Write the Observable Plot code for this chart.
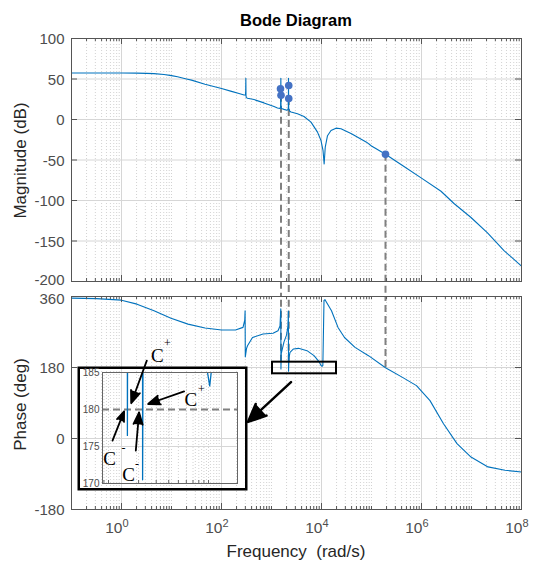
<!DOCTYPE html>
<html><head><meta charset="utf-8">
<script src="https://cdn.jsdelivr.net/npm/d3@7"></script>
<script src="https://cdn.jsdelivr.net/npm/@observablehq/plot@0.6"></script>
<style>
body{margin:0;background:#fff;}
#wrap{position:relative;width:534px;height:563px;background:#fff;overflow:hidden;font-family:"Liberation Sans",Arial,sans-serif;}
#wrap > *{position:absolute;}
.lbl{color:#262626;font-size:17px;white-space:pre;line-height:1;}
g[aria-label="arrow"] path{fill:#000;}
</style></head><body><div id="wrap"></div>
<script>
// ---------- data ----------
// frequency given as log10(rad/s)
const magExp = [-1,-0.5,0,0.3,0.5,0.65,0.85,1.0,1.12,1.3,1.4,1.67,2.0,2.2,2.35,2.45,2.48,2.484,2.487,2.49,2.495,2.52,2.65,2.85,3.05,3.12,3.17,3.182,3.187,3.191,3.2,3.25,3.31,3.332,3.337,3.34,3.344,3.36,3.39,3.52,3.65,3.79,3.92,3.99,4.03,4.053,4.075,4.12,4.19,4.29,4.39,4.6,4.9,5.0,5.28,5.65,6.0,6.39,6.65,6.99,7.32,7.65,8.0];
const magDb  = [57.5,57.5,57.4,57.3,57,56.6,55.5,54.2,52.7,50,48.6,43.6,38.3,34.7,32,30.2,30.5,35,51,30,27,26.2,24.6,20.5,16,14.3,13.6,15.5,51,16.5,13.5,12.5,11.5,12.5,16,51,14,10.5,9.2,7,3.7,-3.3,-15.6,-26,-38,-55,-34,-20,-13.5,-10.7,-11.5,-17.5,-28,-32.7,-43,-58,-72.4,-88.6,-103.7,-121,-140,-161.8,-181];
const phaseExp = [-1,-0.5,0,0.31,0.65,0.99,1.33,1.67,2.0,2.28,2.43,2.465,2.472,2.476,2.5,2.52,2.62,2.83,3.03,3.13,3.17,3.186,3.189,3.195,3.25,3.3,3.33,3.338,3.341,3.35,3.37,3.44,3.54,3.71,3.85,3.95,3.99,4.012,4.027,4.05,4.07,4.2,4.33,4.46,4.67,4.94,5.28,5.62,5.9,6.17,6.44,6.71,6.99,7.33,7.67,8.0];
const phaseDeg = [356,354.5,350.7,340.6,323.8,305,290,280,275,275,281.7,300,324,207,228,235,256,264.8,267,273,285,329,176.5,215,245,262,285,323,170.5,205,218.5,227,228.6,222.7,210,195,185,183.2,185,350,352,323.8,281.6,256,231,210,179.5,155,134,96,37.3,-13,-47,-72,-80.6,-84.8];

const magTicks = [-200,-150,-100,-50,0,50,100];
const phaseTicks = [-180,0,180,360];
const decadeLabels = [0,2,4,6,8];

const markerExp = [3.18,3.19,3.345,3.345,5.28];
const markerDb  = [38,30,42,26,-43];
const guideExp = [3.19,3.345,5.28];
const guideDb  = [30,26,-43];
const guideDeg = [193,193,180];

const zoomBoxExp = [3.02,4.3];
const zoomBoxDeg = [164,193.5];

const insetExp = [2.94,4.29];
const insetDeg = [170,185];
const insetTicks = [170,175,180,185];
const insetRef = 180;

const calloutExp = [3.39,2.53];   // from, to
const calloutDeg = [143,42];

const arrowFromExp = [3.383,3.756,3.04,3.273];
const arrowFromDeg = [186.6,182.44,175.8,174.45];
const arrowToExp   = [3.227,3.396,3.156,3.306];
const arrowToDeg   = [180.85,180.74,179.74,179.6];
const labelExp  = [3.488,3.823,3.011,3.201];
const labelDeg  = [187.25,181.3,173.3,171.2];
const labelSign = ["+","+","-","-"];
const signExp   = [3.59,3.93,3.15,3.285];
const signDeg   = [188.9,182.7,174.8,172.6];

// ---------- helpers ----------
const f = e => 10 ** e;
const mag = magExp.map((e,i) => ({w: f(e), v: magDb[i]}));
const phase = phaseExp.map((e,i) => ({w: f(e), v: phaseDeg[i]}));
const majorX = [], minorX = [];
for (let n = -1; n <= 8; n++) for (let k = 1; k <= 9; k++) {
  const v = k * 10 ** n; if (v > 1e8 * 1.0001) continue;
  if (k === 1 && n % 2 === 0) majorX.push(v); else minorX.push(v);
}
const BLUE = "#0072BD", GRID = "#d6d6d6", MINOR = "#d2d2d2", AX = "#555", TXT = "#4d4d4d";
const FONT = "Liberation Sans, Arial, sans-serif";
const W = 534, ML = 71, MR = 13, FW = W - ML - MR;

function gridMarks(yTicks) {
  return [
    Plot.ruleX(minorX, {stroke: MINOR, strokeDasharray: "1,2", strokeWidth: 1}),
    Plot.ruleX(majorX, {stroke: GRID, strokeWidth: 1}),
    Plot.ruleY(yTicks, {stroke: GRID, strokeWidth: 1})
  ];
}
function tickMarks(yTicks, FH, nudge) {
  return [
    Plot.ruleX(majorX, {stroke: AX, insetTop: FH - 6}),
    Plot.ruleX(majorX, {stroke: AX, insetBottom: FH - 6}),
    Plot.ruleX(minorX, {stroke: AX, insetTop: FH - 3}),
    Plot.ruleX(minorX, {stroke: AX, insetBottom: FH - 3}),
    Plot.ruleY(yTicks, {stroke: AX, insetRight: FW - 6}),
    Plot.ruleY(yTicks, {stroke: AX, insetLeft: FW - 6}),
    Plot.frame({stroke: AX, strokeWidth: 1}),
    Plot.text(yTicks, {y: d => d, frameAnchor: "left", text: d => String(d), textAnchor: "end", dx: -7, dy: 1, fontSize: 15, fill: TXT, filter: d => d !== nudge[0]}),
    Plot.text([nudge[0]], {y: d => d, frameAnchor: "left", text: d => String(d), textAnchor: "end", dx: -7, dy: nudge[1], fontSize: 15, fill: TXT})
  ];
}
const style = {background: "transparent", overflow: "visible", fontFamily: FONT};

// ---------- magnitude ----------
const MAG_H = 296, MAG_T = 38, MAG_B = 15, MAG_FH = MAG_H - MAG_T - MAG_B;
const magPlot = Plot.plot({
  width: W, height: MAG_H, marginLeft: ML, marginRight: MR, marginTop: MAG_T, marginBottom: MAG_B,
  x: {type: "log", domain: [0.1, 1e8], axis: null},
  y: {domain: [-200, 100], axis: null},
  style,
  marks: [
    ...gridMarks(magTicks),
    Plot.ruleX(guideExp.map((e,i) => ({w: f(e), v: guideDb[i]})), {x: "w", y1: "v", y2: () => -200, insetBottom: -MAG_B, stroke: "#808080", strokeWidth: 2, strokeDasharray: "7,4"}),
    Plot.line(mag, {x: "w", y: "v", stroke: BLUE, strokeWidth: 1.1}),
    Plot.dot(markerExp.map((e,i) => ({w: f(e), v: markerDb[i]})), {x: "w", y: "v", r: 3.8, fill: "#4472C4"}),
    ...tickMarks(magTicks, MAG_FH, [-200, -1])
  ]
});

// ---------- phase ----------
const PH_TOP = 281, PH_H = 282, PH_T = 15, PH_B = 54, PH_FH = PH_H - PH_T - PH_B;
const phPlot = Plot.plot({
  width: W, height: PH_H, marginLeft: ML, marginRight: MR, marginTop: PH_T, marginBottom: PH_B,
  x: {type: "log", domain: [0.1, 1e8], axis: null},
  y: {domain: [-180, 360], axis: null},
  style,
  marks: [
    ...gridMarks(phaseTicks),
    Plot.ruleX(guideExp.map((e,i) => ({w: f(e), v: guideDeg[i]})), {x: "w", y1: "v", y2: () => 360, stroke: "#808080", strokeWidth: 2, strokeDasharray: "7,4"}),
    Plot.line(phase, {x: "w", y: "v", stroke: BLUE, strokeWidth: 1.1}),
    Plot.rect([{}], {x1: () => f(zoomBoxExp[0]), x2: () => f(zoomBoxExp[1]), y1: () => zoomBoxDeg[0], y2: () => zoomBoxDeg[1], fill: "none", stroke: "#000", strokeWidth: 2}),
    Plot.arrow([{}], {x1: () => f(calloutExp[0]), y1: () => calloutDeg[0], x2: () => f(calloutExp[1]), y2: () => calloutDeg[1], stroke: "#000", strokeWidth: 2.5, headLength: 17, headAngle: 48}),
    ...tickMarks(phaseTicks, PH_FH, [360, 2.5]),
    Plot.text(decadeLabels, {x: e => f(e), frameAnchor: "bottom", text: () => "10", textAnchor: "end", dx: 1, dy: 23.5, fontSize: 15.5, fill: TXT}),
    Plot.text(decadeLabels, {x: e => f(e), frameAnchor: "bottom", text: e => String(e), textAnchor: "start", dx: 1, dy: 17, fontSize: 11, fill: TXT})
  ]
});

// ---------- inset ----------
const IN_W = 170, IN_H = 124, IN_L = 25, IN_R = 10, IN_T = 6, IN_B = 7, IN_FH = IN_H - IN_T - IN_B;
const insetMinor = [];
for (let n = 2; n <= 4; n++) for (let k = 1; k <= 9; k++) {
  const v = k * 10 ** n; if (v > f(insetExp[0]) && v < f(insetExp[1])) insetMinor.push(v);
}
const arrows = arrowFromExp.map((e,i) => ({x1: f(e), y1: arrowFromDeg[i], x2: f(arrowToExp[i]), y2: arrowToDeg[i]}));
const labels = labelExp.map((e,i) => ({x: f(e), y: labelDeg[i], sx: f(signExp[i]), sy: signDeg[i], s: labelSign[i]}));
const inPlot = Plot.plot({
  width: IN_W, height: IN_H, marginLeft: IN_L, marginRight: IN_R, marginTop: IN_T, marginBottom: IN_B,
  x: {type: "log", domain: insetExp.map(f), axis: null},
  y: {domain: insetDeg, axis: null},
  style,
  marks: [
    Plot.ruleX(insetMinor, {stroke: MINOR, strokeDasharray: "1,2"}),
    Plot.ruleY([175], {stroke: GRID}),
    Plot.ruleY([insetRef], {stroke: "#808080", strokeWidth: 2, strokeDasharray: "7,4"}),
    Plot.line(phase, {x: "w", y: "v", stroke: BLUE, strokeWidth: 1.3, clip: true}),
    Plot.ruleX(insetMinor, {stroke: "#666", insetTop: IN_FH - 3}),
    Plot.frame({stroke: "#666", strokeWidth: 1}),
    Plot.frame({stroke: "#000", strokeWidth: 2.5, insetLeft: -(IN_L - 1.25), insetRight: -(IN_R - 1.25), insetTop: -(IN_T - 1.25), insetBottom: -(IN_B - 1.25)}),
    Plot.text(insetTicks, {y: d => d, frameAnchor: "left", text: d => String(d), textAnchor: "end", dx: -3, fontSize: 10, fill: TXT}),
    Plot.arrow(arrows, {x1: "x1", y1: "y1", x2: "x2", y2: "y2", stroke: "#000", strokeWidth: 1.8, headLength: 11, headAngle: 42}),
    Plot.text(labels, {x: "x", y: "y", text: () => "C", fontFamily: "Liberation Serif, Times New Roman, serif", fontSize: 19, fill: "#000"}),
    Plot.text(labels, {x: "sx", y: "sy", text: "s", fontFamily: "Liberation Serif, Times New Roman, serif", fontSize: 12, fill: "#000"})
  ]
});

// ---------- layout ----------
const wrap = document.getElementById("wrap");
function place(el, left, top) { el.style.left = left + "px"; el.style.top = top + "px"; wrap.appendChild(el); return el; }
place(magPlot, 0, 0);
place(phPlot, 0, PH_TOP);
place(inPlot, 77, 366);
function label(text, cx, cy, rot, extra) {
  const d = document.createElement("div");
  d.className = "lbl"; d.textContent = text;
  Object.assign(d.style, extra || {});
  wrap.appendChild(d);
  const w = d.offsetWidth, h = d.offsetHeight;
  d.style.left = (cx - w / 2) + "px"; d.style.top = (cy - h / 2) + "px";
  if (rot) d.style.transform = `rotate(${rot}deg)`;
}
label("Bode Diagram", 296, 20, 0, {fontWeight: "bold", color: "#000", fontSize: "16.5px"});
label("Magnitude (dB)", 20, 160, -90);
label("Phase (deg)", 20, 404, -90);
label("Frequency  (rad/s)", 296, 551, 0);
</script></body></html>
